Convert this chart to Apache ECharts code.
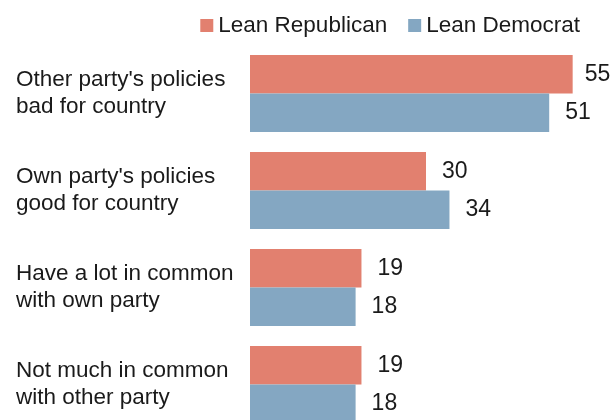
<!DOCTYPE html>
<html>
<head>
<meta charset="utf-8">
<script src="https://cdn.jsdelivr.net/npm/echarts@6/dist/echarts.min.js"></script>
<style>
  html, body { margin: 0; padding: 0; background: #fff; }
  #chart { width: 615px; height: 420px; }
</style>
</head>
<body>
<div id="chart"></div>
<script>
// Reasons given for leaning toward a party, by partisan leaners (%)
const categories = [
  "Other party's policies\nbad for country",
  "Own party's policies\ngood for country",
  "Have a lot in common\nwith own party",
  "Not much in common\nwith other party"
];
const seriesNames = ["Lean Republican", "Lean Democrat"];
const leanRepublican = [55, 30, 19, 19];
const leanDemocrat = [51, 34, 18, 18];
const colors = ["#e2806f", "#84a7c2"];

const FONT = "Liberation Sans, Arial, sans-serif";
const TEXT = "#1a1a1a";

function barData(values) {
  // keep the widest value label inside the canvas
  return values.map(v => v >= 55 ? { value: v, label: { distance: 12 } } : v);
}

const valueLabel = {
  show: true, position: "right", distance: 16,
  fontFamily: FONT, fontSize: 23, color: TEXT,
  padding: [4, 0, 0, 0]
};

const chart = echarts.init(document.getElementById("chart"), null, { renderer: "canvas" });
chart.setOption({
  animation: false,
  textStyle: { fontFamily: FONT },
  legend: {
    top: 9,
    right: 30,
    itemWidth: 13,
    itemHeight: 13,
    itemGap: 21,
    icon: "rect",
    textStyle: { fontFamily: FONT, fontSize: 22.5, color: TEXT },
    data: seriesNames
  },
  grid: {
    left: 250, top: 45, width: 352, height: 388,
    outerBoundsMode: "none"
  },
  xAxis: {
    type: "value",
    min: 0,
    max: 60,
    show: false
  },
  yAxis: {
    type: "category",
    inverse: true,
    data: categories,
    axisLine: { show: false },
    axisTick: { show: false },
    axisLabel: {
      align: "left",
      margin: 234,
      fontFamily: FONT,
      fontSize: 22.5,
      lineHeight: 27,
      padding: [4, 0, 0, 0],
      color: TEXT
    }
  },
  series: [
    {
      name: seriesNames[0],
      type: "bar",
      data: barData(leanRepublican),
      barWidth: 38.5,
      barGap: "0%",
      itemStyle: { color: colors[0] },
      label: valueLabel
    },
    {
      name: seriesNames[1],
      type: "bar",
      data: barData(leanDemocrat),
      barWidth: 38.5,
      barGap: "0%",
      itemStyle: { color: colors[1] },
      label: valueLabel
    }
  ]
});
</script>
</body>
</html>
